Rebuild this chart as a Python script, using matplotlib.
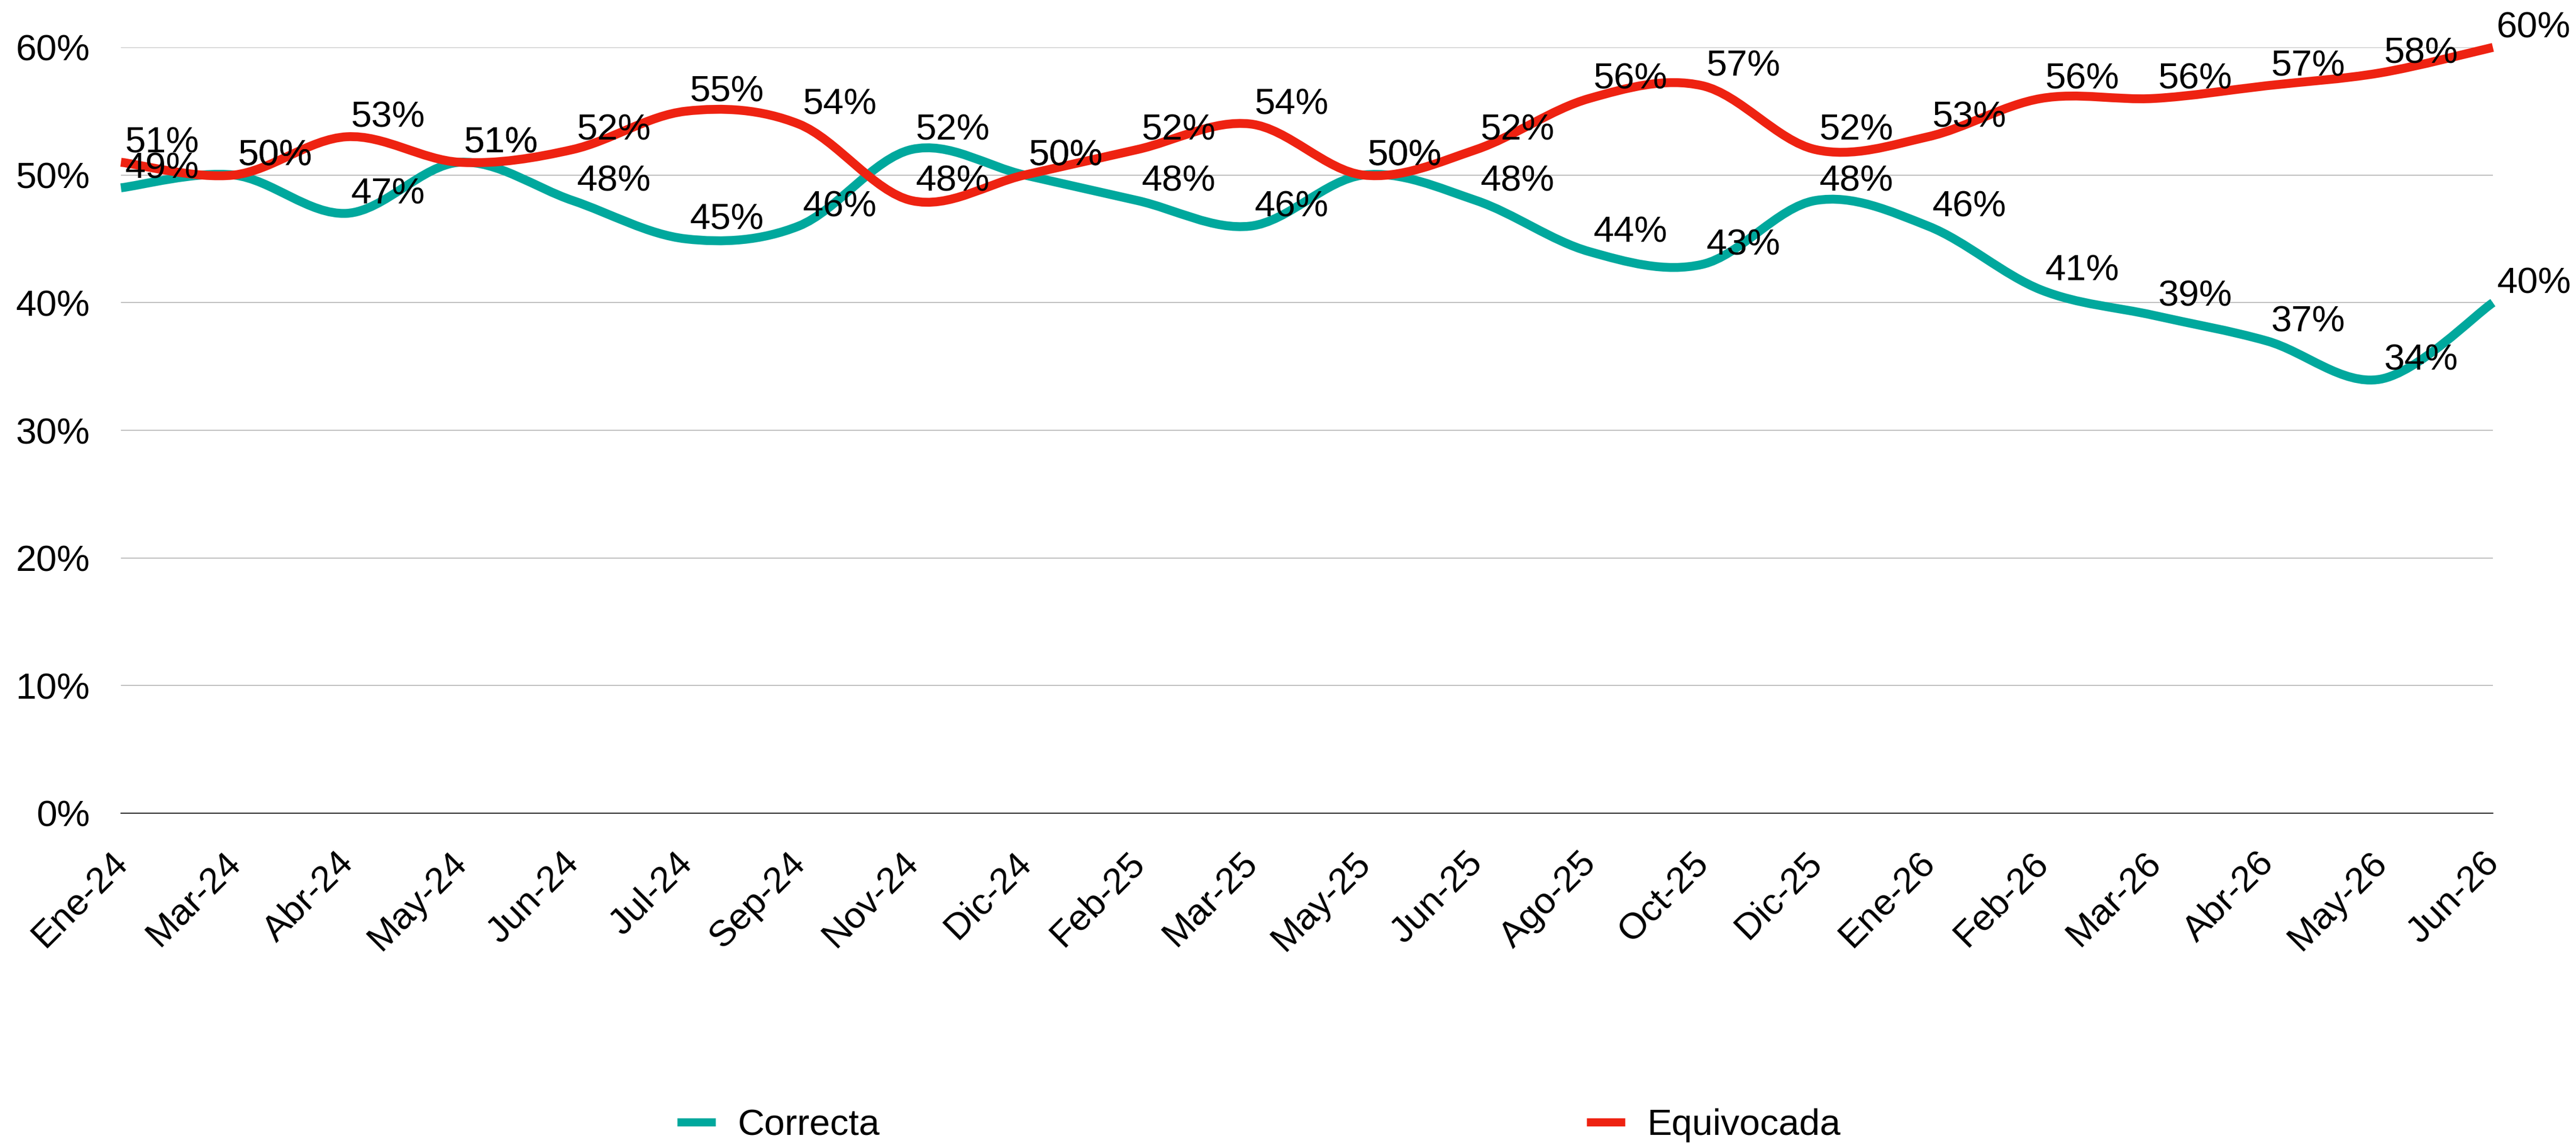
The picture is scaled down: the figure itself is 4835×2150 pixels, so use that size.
import matplotlib
matplotlib.use("Agg")
import matplotlib.pyplot as plt
from matplotlib.path import Path
from matplotlib.patches import PathPatch
from matplotlib.lines import Line2D
from matplotlib.transforms import ScaledTranslation
import numpy as np

plt.rcParams['font.family'] = ['Liberation Sans', 'DejaVu Sans']

meses = ["Ene-24", "Mar-24", "Abr-24", "May-24", "Jun-24", "Jul-24", "Sep-24",
         "Nov-24", "Dic-24", "Feb-25", "Mar-25", "May-25", "Jun-25", "Ago-25",
         "Oct-25", "Dic-25", "Ene-26", "Feb-26", "Mar-26", "Abr-26", "May-26",
         "Jun-26"]
correcta = [49, 50, 47, 51, 48, 45, 46, 52, 50, 48, 46, 50, 48, 44, 43, 48,
            46, 41, 39, 37, 34, 40]
equivocada = [51, 50, 53, 51, 52, 55, 54, 48, 50, 52, 54, 50, 52, 56, 57, 52,
              53, 56, 56, 57, 58, 60]

TEAL = "#00A89D"
RED = "#EE2211"
FS = 50


def smooth_path(xs, ys):
    # curva suave tipo catmull-rom pasando por cada punto
    pts = np.column_stack([xs, ys]).astype(float)
    ext = np.vstack([pts[0], pts, pts[-1]])
    verts = [pts[0]]
    codes = [Path.MOVETO]
    for i in range(len(pts) - 1):
        p0, p1, p2, p3 = ext[i], ext[i + 1], ext[i + 2], ext[i + 3]
        verts += [p1 + (p2 - p0) / 6, p2 - (p3 - p1) / 6, p2]
        codes += [Path.CURVE4] * 3
    return Path(verts, codes)


fig = plt.figure(figsize=(48.35, 21.5), dpi=100)
ax = fig.add_axes([227 / 4835, 1 - 1527 / 2150, (4679 - 227) / 4835, (1527 - 89) / 2150])

x = np.arange(len(meses))
for serie, color in [(correcta, TEAL), (equivocada, RED)]:
    patch = PathPatch(smooth_path(x, serie), fill=False, edgecolor=color,
                      linewidth=12, capstyle='butt', joinstyle='round',
                      clip_on=False, zorder=3)
    ax.add_patch(patch)

for serie in [correcta, equivocada]:
    for xi, v in zip(x, serie):
        ax.annotate(f"{v}%", (xi, v), xytext=(5, 13), textcoords='offset points',
                    ha='left', va='baseline', fontsize=FS, color='black',
                    annotation_clip=False, zorder=4)

ax.set_xlim(0, len(meses) - 1)
ax.set_ylim(0, 60)
ax.set_yticks(range(0, 61, 10))
ax.set_yticklabels([f"{t}%" for t in range(0, 61, 10)])
ax.set_xticks(x)
ax.set_xticklabels(meses)
ax.tick_params(axis='both', length=0, labelsize=FS)
ax.tick_params(axis='y', pad=42)
ax.tick_params(axis='x', pad=44)
shift = ScaledTranslation(-0.2, 0, fig.dpi_scale_trans)
for lbl in ax.get_xticklabels():
    lbl.set_rotation(45)
    lbl.set_ha('right')
    lbl.set_va('top')
    lbl.set_rotation_mode('anchor')
    lbl.set_transform(lbl.get_transform() + shift)

ax.grid(axis='y', color='#BFBFBF', linewidth=1.5)
ax.set_axisbelow(True)
for s in ['top', 'right', 'left']:
    ax.spines[s].set_visible(False)
ax.spines['bottom'].set_color('black')
ax.spines['bottom'].set_linewidth(1.2)
ax.spines['bottom'].set_zorder(2)

h1 = Line2D([], [], color=TEAL, linewidth=11, solid_capstyle='butt')
h2 = Line2D([], [], color=RED, linewidth=11, solid_capstyle='butt')
for h, lab, x0 in [(h1, "Correcta", 1271), (h2, "Equivocada", 2978)]:
    fig.legend([h], [lab], loc='center left', bbox_to_anchor=(x0 / 4835, 1 - 2113 / 2150),
               frameon=False, fontsize=FS, borderpad=0, borderaxespad=0,
               handlelength=1.03, handletextpad=0.6)

fig.savefig("out.png", dpi=100)
